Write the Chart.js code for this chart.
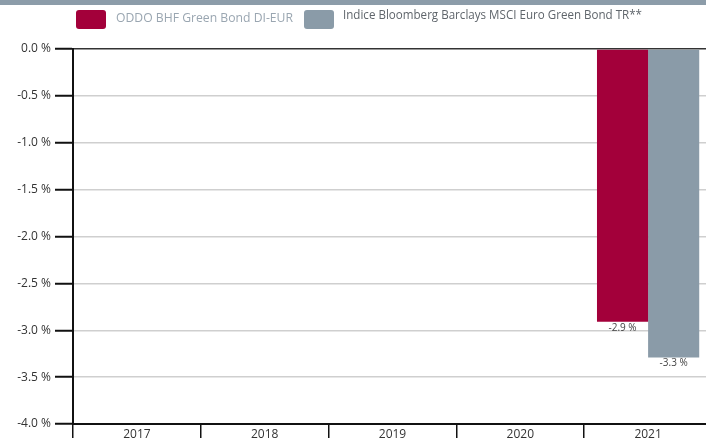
<!DOCTYPE html>
<html><head><meta charset="utf-8">
<script src="https://cdn.jsdelivr.net/npm/chart.js@4/dist/chart.umd.min.js"></script>
<style>
html,body{margin:0;padding:0;background:#fff;overflow:hidden;width:706px;height:438px}
#topbar{position:absolute;left:0;top:0;width:706px;height:5px;background:#8c9ca9}
#wrap{position:absolute;left:0;top:0;width:712px;height:438px}
.leg{position:absolute;white-space:nowrap;font-family:"Open Sans",sans-serif;font-size:13px;line-height:16px;transform-origin:0 0}
.box{position:absolute;width:30px;height:19px;border-radius:3px}
</style></head>
<body>
<div id="wrap"><canvas id="c" width="712" height="438"></canvas></div>
<div id="topbar"></div>
<div id="legend"></div>
<script>
const categories = ["2017","2018","2019","2020","2021"];
const seriesNames = ["ODDO BHF Green Bond DI-EUR","Indice Bloomberg Barclays MSCI Euro Green Bond TR**"];
const fundValues = [null,null,null,null,-2.91];
const indexValues = [null,null,null,null,-3.29];
const fundLabels = [null,null,null,null,"-2.9 %"];
const indexLabels = [null,null,null,null,"-3.3 %"];
const colors = ["#a3003a","#8a9ba8"];
const legendTextColors = ["#9aa6b1","#5f656b"];

// legend (HTML)
const legLayout = [{box:76, txt:116, w:177, top:9},{box:304, txt:343, w:299, top:6}];
const lg = document.getElementById('legend');
seriesNames.forEach((n,i)=>{
  const b=document.createElement('div'); b.className='box';
  b.style.left=legLayout[i].box+'px'; b.style.top='10px'; b.style.background=colors[i];
  lg.appendChild(b);
  const t=document.createElement('div'); t.className='leg'; t.textContent=n;
  t.style.left=legLayout[i].txt+'px'; t.style.top=legLayout[i].top+'px'; t.style.color=legendTextColors[i];
  lg.appendChild(t);
  const w=t.getBoundingClientRect().width;
  t.style.transform='scaleX('+(legLayout[i].w/w).toFixed(4)+')';
});

const valueLabels = {
  id:'valueLabels',
  afterDatasetsDraw(chart){
    const ctx=chart.ctx; ctx.save();
    ctx.font='10px "Open Sans", sans-serif'; ctx.fillStyle='#444'; ctx.textAlign='center'; ctx.textBaseline='middle';
    [fundLabels,indexLabels].forEach((labs,di)=>{
      const meta=chart.getDatasetMeta(di);
      meta.data.forEach((el,i)=>{ if(labs[i]) ctx.fillText(labs[i], el.x, el.y+6); });
    });
    ctx.restore();
  }
};

new Chart(document.getElementById('c'),{
  type:'bar',
  data:{labels:categories,datasets:[
    {label:seriesNames[0],data:fundValues,backgroundColor:colors[0],categoryPercentage:0.8,barPercentage:1.0},
    {label:seriesNames[1],data:indexValues,backgroundColor:colors[1],categoryPercentage:0.8,barPercentage:1.0}
  ]},
  options:{
    responsive:false,animation:false,
    layout:{padding:{top:49,right:0,left:0,bottom:0}},
    plugins:{legend:{display:false},tooltip:{enabled:false}},
    scales:{
      x:{
        grid:{offset:true,drawOnChartArea:false,drawTicks:true,tickLength:17,color:'#111',lineWidth:1.5},
        border:{display:true,color:'#111',width:2},
        ticks:{color:'#333',font:{family:'"Open Sans", sans-serif',size:12},padding:-14},
        afterFit(s){s.height=14;}
      },
      y:{
        min:-4,max:0,
        ticks:{stepSize:0.5,color:'#333',font:{family:'"Open Sans", sans-serif',size:12},padding:4,
          callback:v=>v.toFixed(1)+' %'},
        grid:{color:ctx=>ctx.tick&&ctx.tick.value===0?'#333':'#cfcfcf',lineWidth:1.5,
          tickColor:'#111',tickWidth:2,tickLength:18},
        border:{display:true,color:'#111',width:2},
        afterFit(s){s.width=73;}
      }
    }
  },
  plugins:[valueLabels]
});
</script>
</body></html>
